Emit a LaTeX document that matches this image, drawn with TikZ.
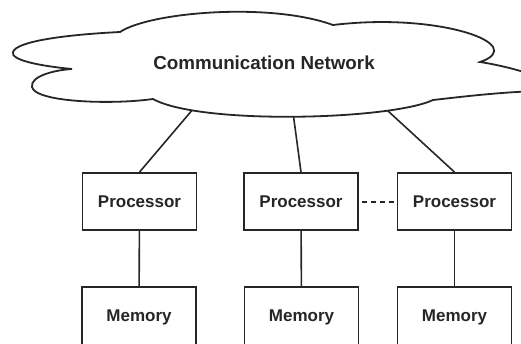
\documentclass[tikz,border=0pt]{standalone}
\usepackage{fontspec}
\setmainfont{Liberation Sans}
\begin{document}
\begin{tikzpicture}[x=1bp,y=-1bp,
  ink/.style={draw=black!85, line width=1.8bp},
  unitbox/.style={ink, fill=white, minimum width=114bp, minimum height=57bp,
    inner sep=0pt, font=\fontsize{17bp}{20bp}\selectfont\bfseries, text=black!85},
  membox/.style={unitbox, minimum height=61bp},
  link/.style={draw=black!85, line width=1.6bp},
  dashlink/.style={link, line width=2bp, dash pattern=on 5.5bp off 3.5bp, dash phase=-3bp}]
\useasboundingbox (0,0) rectangle (521,343);
\clip (0,0) rectangle (521,343);

% processors and their memories
\node[unitbox] (p1) at (139.5,201.5) {Processor};
\node[unitbox] (p2) at (301,201.5) {Processor};
\node[unitbox] (p3) at (454.5,201.5) {Processor};
\node[membox] (m1) at (139,317.5) {Memory};
\node[membox] (m2) at (301.5,317.5) {Memory};
\node[membox] (m3) at (454.5,317.5) {Memory};

% attachment points just inside the cloud outline
\coordinate (n1) at (196.5,105);
\coordinate (n2) at (292,105);
\coordinate (n3) at (381.5,105);

\draw[link] (p1.north) -- (n1);
\draw[link] (p2.north) -- (n2);
\draw[link] (p3.north) -- (n3);
\draw[link] (p1) -- (m1);
\draw[link] (p2) -- (m2);
\draw[link] (p3) -- (m3);
\draw[dashlink] (p2.east) -- (p3.west);

% cloud outline
\draw[ink, fill=white, line join=miter]
  (120,32) .. controls (150,12) and (270,2) .. (333,25)
  .. controls (440,12) and (530,45) .. (480,62)
  .. controls (520,68) and (580,88) .. (540,91)
  .. controls (500,92) and (460,97) .. (433,100)
  .. controls (390,120) and (200,125) .. (153,99)
  .. controls (110,105) and (35,102) .. (32,87)
  .. controls (30,76) and (55,70) .. (72,69)
  .. controls (40,66) and (10,60) .. (13,52)
  .. controls (16,42) and (60,35) .. cycle;
\node[font=\fontsize{18.8bp}{22bp}\selectfont\bfseries, text=black!85, inner sep=0pt]
  (net) at (264,63) {Communication Network};
\end{tikzpicture}
\end{document}
